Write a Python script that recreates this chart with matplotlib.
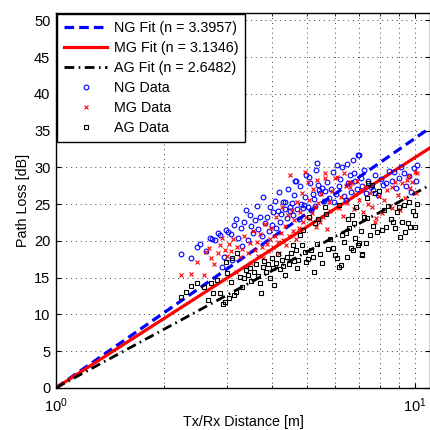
import matplotlib
matplotlib.use("Agg")
import matplotlib.pyplot as plt
import numpy as np

plt.rcParams['font.family'] = ['Liberation Sans', 'DejaVu Sans']
plt.rcParams['mathtext.default'] = 'regular'

# path loss exponents of the fits
n_ng = 3.3957
n_mg = 3.1346
n_ag = 2.6482
fit_d = [1, 11]

# NG measurements (distance [m], path loss [dB])
ng_d = [2.23, 2.38, 2.47, 2.52, 2.62, 2.69, 2.72, 2.77, 2.82, 2.86, 2.90, 2.93, 2.97, 3.02,
        3.07, 3.10, 3.14, 3.17, 3.22, 3.27, 3.30, 3.34, 3.38, 3.42, 3.46, 3.50, 3.54, 3.58,
        3.62, 3.66, 3.70, 3.74, 3.78, 3.82, 3.87, 3.91, 3.95, 3.99, 4.02, 4.06, 4.10, 4.14,
        4.18, 4.20, 4.24, 4.29, 4.33, 4.35, 4.39, 4.43, 4.47, 4.49, 4.53, 4.57, 4.60, 4.63,
        4.66, 4.70, 4.74, 4.78, 4.82, 4.86, 4.90, 4.94, 4.97, 5.02, 5.07, 5.10, 5.14, 5.18,
        5.22, 5.26, 5.30, 5.33, 5.36, 5.40, 5.45, 5.50, 5.56, 5.62, 5.68, 5.76, 5.84, 5.90,
        5.95, 6.02, 6.05, 6.12, 6.18, 6.25, 6.32, 6.40, 6.45, 6.50, 6.58, 6.65, 6.72, 6.76,
        6.82, 6.88, 6.93, 6.98, 7.05, 7.12, 7.20, 7.30, 7.40, 7.55, 7.62, 7.75, 7.90, 8.05,
        8.15, 8.30, 8.45, 8.60, 8.75, 8.85, 9.00, 9.15, 9.30, 9.45, 9.60, 9.75, 9.90, 10.10,
        10.05]
ng_pl = [18.2, 17.7, 19.1, 19.6, 18.6, 20.4, 20.2, 20.1, 21.0, 20.8, 16.4, 17.8, 21.5, 21.2,
         20.9, 17.4, 22.1, 23.0, 20.4, 21.8, 19.3, 22.6, 24.2, 20.1, 23.5, 22.0, 21.1, 22.8,
         24.8, 21.6, 23.3, 20.7, 25.9, 22.4, 23.2, 21.3, 24.6, 22.2, 23.9, 25.4, 21.7, 24.1,
         26.6, 22.6, 23.7, 25.3, 24.3, 25.3, 23.1, 27.0, 24.0, 24.6, 25.1, 23.5, 26.2, 28.2,
         28.1, 24.3, 22.9, 27.4, 25.0, 24.4, 24.9, 26.0, 29.0, 24.6, 28.7, 27.9, 24.2, 26.3,
         25.7, 24.8, 29.7, 30.6, 27.6, 26.9, 26.5, 27.2, 25.4, 26.8, 28.0, 25.8, 27.1, 29.3,
         25.3, 26.4, 30.3, 27.5, 28.4, 30.0, 26.1, 25.5, 30.5, 27.8, 28.9, 26.6, 31.0, 29.2,
         28.1, 27.0, 31.7, 31.7, 28.6, 27.4, 29.6, 26.5, 28.2, 27.3, 26.9, 29.0, 26.2, 28.4,
         27.6, 27.8, 29.5, 28.2, 29.4, 27.2, 28.5, 30.1, 29.2, 27.5, 28.8, 26.7, 29.9, 30.3,
         28.1]

# MG measurements
mg_d = [2.23, 2.38, 2.47, 2.58, 2.62, 2.67, 2.70, 2.76, 2.82, 2.86, 2.90, 2.95, 3.00, 3.04,
        3.08, 3.12, 3.17, 3.20, 3.25, 3.30, 3.34, 3.38, 3.42, 3.46, 3.50, 3.54, 3.58, 3.62,
        3.66, 3.70, 3.74, 3.78, 3.82, 3.86, 3.90, 3.94, 3.98, 4.02, 4.06, 4.10, 4.14, 4.18,
        4.22, 4.26, 4.30, 4.34, 4.38, 4.42, 4.46, 4.49, 4.53, 4.57, 4.61, 4.65, 4.70, 4.74,
        4.78, 4.84, 4.88, 4.94, 4.98, 5.02, 5.06, 5.10, 5.15, 5.20, 5.25, 5.30, 5.33, 5.38,
        5.43, 5.48, 5.54, 5.62, 5.62, 5.68, 5.74, 5.80, 5.88, 5.99, 6.06, 6.12, 6.20, 6.28,
        6.33, 6.40, 6.48, 6.55, 6.60, 6.67, 6.74, 6.80, 6.88, 6.96, 7.05, 7.15, 7.25, 7.40,
        7.50, 7.60, 7.72, 7.80, 7.95, 8.10, 8.20, 8.35, 8.50, 8.60, 8.60, 8.80, 8.95, 9.05,
        9.20, 9.40, 9.50, 9.60, 9.70, 9.80, 9.96, 10.05, 10.10]
mg_pl = [15.4, 15.5, 17.1, 15.4, 18.5, 19.0, 17.7, 16.8, 18.3, 19.4, 20.4, 18.8, 17.9, 19.6,
         18.6, 20.2, 15.8, 19.1, 17.8, 18.9, 20.6, 16.4, 18.3, 19.7, 17.0, 21.4, 18.8, 19.9,
         18.0, 20.9, 19.2, 17.6, 22.3, 19.6, 18.6, 20.3, 21.8, 19.1, 20.7, 23.2, 19.8, 18.4,
         21.0, 24.6, 20.1, 22.0, 19.4, 23.5, 20.6, 28.9, 24.2, 21.3, 22.8, 20.2, 25.3, 21.8,
         23.9, 26.5, 22.6, 29.4, 23.2, 28.0, 25.5, 22.9, 23.8, 27.0, 24.6, 21.9, 28.3, 25.1,
         22.5, 26.4, 23.3, 28.5, 29.2, 21.6, 25.3, 24.0, 26.8, 28.6, 28.7, 24.5, 26.0, 23.4,
         29.2, 27.5, 25.1, 28.0, 27.3, 27.8, 24.3, 26.3, 28.1, 25.6, 26.9, 23.9, 27.4, 25.0,
         26.5, 24.6, 22.6, 23.1, 26.1, 23.8, 25.5, 26.9, 24.7, 27.3, 24.4, 28.0, 26.2, 24.2,
         27.8, 25.8, 28.3, 28.8, 27.2, 28.0, 29.4, 26.5, 29.2]

# AG measurements
ag_d = [2.23, 2.30, 2.38, 2.47, 2.58, 2.65, 2.70, 2.74, 2.80, 2.86, 2.92, 2.95, 2.97, 3.00,
        3.03, 3.07, 3.10, 3.13, 3.17, 3.20, 3.25, 3.30, 3.34, 3.38, 3.42, 3.46, 3.50, 3.55,
        3.60, 3.65, 3.70, 3.72, 3.76, 3.80, 3.85, 3.90, 3.95, 4.00, 4.02, 4.05, 4.10, 4.15,
        4.20, 4.25, 4.30, 4.35, 4.40, 4.45, 4.50, 4.57, 4.60, 4.65, 4.68, 4.72, 4.78, 4.84,
        4.88, 4.94, 4.98, 5.04, 5.08, 5.12, 5.18, 5.22, 5.26, 5.32, 5.38, 5.45, 5.52, 5.60,
        5.66, 5.72, 5.80, 5.90, 5.99, 6.05, 6.15, 6.15, 6.22, 6.25, 6.32, 6.40, 6.45, 6.50,
        6.55, 6.62, 6.68, 6.72, 6.76, 6.80, 6.85, 6.92, 6.98, 7.05, 7.10, 7.13, 7.20, 7.30,
        7.35, 7.35, 7.40, 7.50, 7.58, 7.65, 7.75, 7.85, 7.92, 8.10, 8.20, 8.30, 8.40, 8.55,
        8.70, 8.80, 8.90, 9.00, 9.10, 9.20, 9.30, 9.40, 9.55, 9.60, 9.70, 9.85, 9.96, 10.00,
        10.10]
ag_pl = [12.3, 13.1, 13.8, 14.2, 13.7, 12.0, 14.2, 12.9, 14.7, 12.9, 11.4, 11.7, 17.1, 15.6,
         12.2, 14.4, 17.7, 12.6, 13.0, 18.3, 15.1, 13.7, 14.9, 16.0, 15.4, 16.3, 14.6, 15.8,
         16.9, 15.2, 14.2, 12.9, 16.5, 17.3, 15.7, 16.8, 14.9, 17.6, 16.3, 14.0, 17.0, 18.2,
         16.2, 17.4, 16.6, 15.4, 17.8, 16.9, 18.4, 19.4, 17.2, 18.7, 16.3, 17.4, 20.8, 19.4,
         21.5, 18.5, 17.1, 17.5, 23.2, 18.7, 17.8, 15.8, 22.4, 19.6, 23.0, 18.2, 17.0, 24.6,
         23.6, 18.9, 20.3, 19.0, 18.1, 17.7, 16.4, 24.9, 16.7, 20.8, 19.8, 21.0, 17.8, 22.9,
         21.7, 19.0, 23.5, 18.7, 22.4, 20.4, 24.6, 19.4, 19.7, 21.4, 18.1, 18.2, 23.2, 19.7,
         25.8, 23.1, 27.8, 20.8, 27.6, 22.0, 26.5, 21.2, 26.8, 21.5, 24.2, 21.9, 24.8, 23.0,
         22.6, 21.7, 23.9, 24.6, 20.5, 22.5, 24.9, 21.2, 22.4, 25.3, 21.9, 24.0, 23.5, 21.9,
         25.0]

fig = plt.figure(figsize=(4.3, 4.3), dpi=100)
ax = fig.add_axes([0.130, 0.098, 0.870, 0.872])

fit_d = np.array(fit_d)
ax.plot(fit_d, 10 * n_ng * np.log10(fit_d), '--', color=(0, 0, 1), lw=2.3,
        dashes=(3.0, 1.6), label='NG Fit (n = 3.3957)')
ax.plot(fit_d, 10 * n_mg * np.log10(fit_d), '-', color=(1, 0, 0), lw=2.3,
        label='MG Fit (n = 3.1346)')
ax.plot(fit_d, 10 * n_ag * np.log10(fit_d), '-.', color='k', lw=2,
        dashes=(3.5, 1.6, 0.6, 1.6), label='AG Fit (n = 2.6482)')
ax.plot(ng_d, ng_pl, 'o', ls='none', mfc='none', mec=(0, 0, 1), ms=3.4, mew=0.8,
        label='NG Data')
ax.plot(mg_d, mg_pl, 'x', ls='none', color=(1, 0, 0), ms=3.2, mew=0.8,
        label='MG Data')
ax.plot(ag_d, ag_pl, 's', ls='none', mfc='none', mec='k', ms=3.0, mew=0.8,
        label='AG Data')

ax.set_xscale('log')
ax.set_xlim(1, 11)
ax.set_ylim(0, 51)
ax.set_yticks(np.arange(0, 51, 5))
ax.set_xticks([1, 10])
ax.set_xticklabels(['$10^{0}$', '$10^{1}$'])
ax.tick_params(which='both', direction='in', labelsize=10.5, top=True, right=True)
ax.tick_params(axis='x', which='major', pad=6)
ax.tick_params(axis='y', pad=4)
ax.tick_params(which='minor', length=2)
ax.grid(True, which='both', ls=(0, (1, 4)), color='0.25', lw=0.7)
for s in ax.spines.values():
    s.set_linewidth(1.0)

ax.set_xlabel('Tx/Rx Distance [m]', fontsize=10.3, labelpad=0)
ax.set_ylabel('Path Loss [dB]', fontsize=10.3, labelpad=3)

leg = ax.legend(loc='upper left', fontsize=10.3, numpoints=1, handlelength=3.0,
                handletextpad=0.45, labelspacing=0.42, borderaxespad=0.08,
                borderpad=0.5, fancybox=False, framealpha=1, edgecolor='k')
leg.get_frame().set_linewidth(1.0)

fig.savefig('out.png', dpi=100)
